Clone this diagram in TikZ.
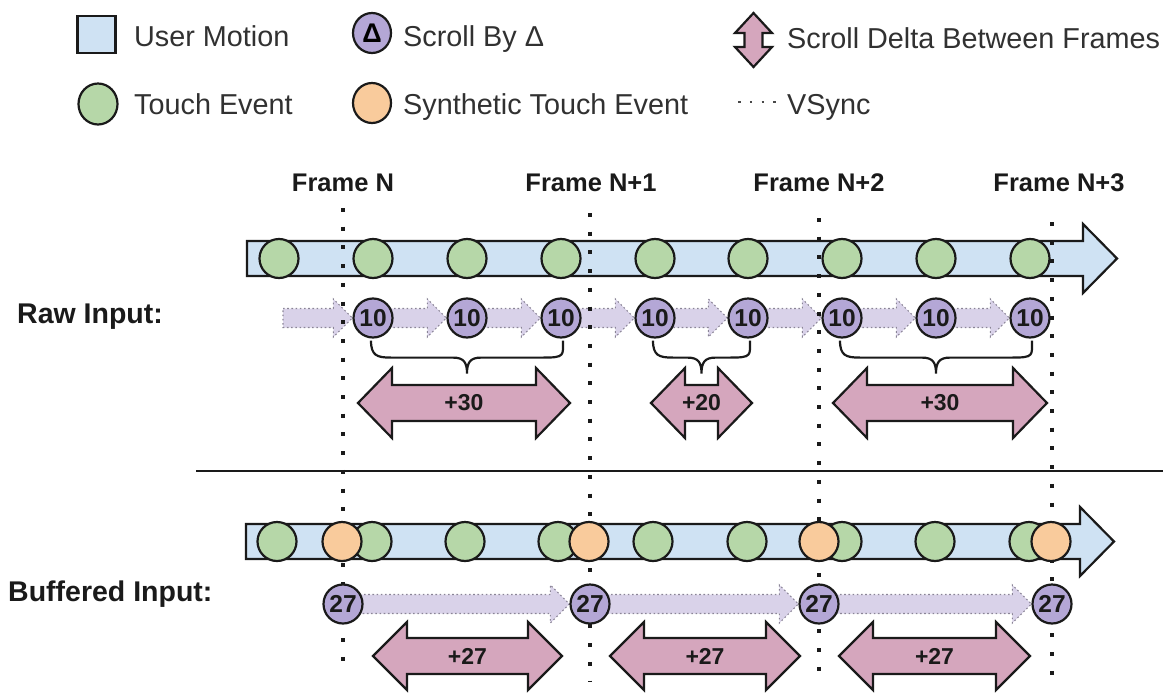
\documentclass[tikz,border=0pt]{standalone}
\usepackage{fontspec}
\setmainfont{Liberation Sans}
\usetikzlibrary{calc,shapes.geometric}

\definecolor{motion}{HTML}{CFE2F3}
\definecolor{touch}{HTML}{B6D7A8}
\definecolor{synth}{HTML}{F9CB9C}
\definecolor{scroll}{HTML}{B4A7D6}
\definecolor{delta}{HTML}{D5A6BD}
\definecolor{flowfill}{HTML}{D9D2E9}
\definecolor{flowline}{HTML}{8A8496}
\definecolor{ink}{HTML}{1A1A1A}

\pgfdeclarelayer{bars}
\pgfdeclarelayer{grid}
\pgfsetlayers{bars,grid,main}

% dotted lavender arrow from one node centre to the west side of another
\newcommand\flowarrow[2]{%
  \path[flow] let \p1=(#1.center), \p2=(#2.west) in
    (\x1,\y1+9.5pt) -- (\x2-19pt,\y1+9.5pt) -- (\x2-19pt,\y1+19pt) -- (\x2,\y1)
    -- (\x2-19pt,\y1-19pt) -- (\x2-19pt,\y1-9.5pt) -- (\x1,\y1-9.5pt) -- cycle;}

% curly brace under two nodes
\newcommand\bracebelow[2]{%
  \draw[bracestyle] let \p1=(#1.south), \p2=(#2.south), \n1={(\x1+\x2)/2} in
    (\x1-2pt,\y1-2pt) .. controls (\x1-2pt,\y1-17pt) and (\x1+4pt,\y1-19pt) .. (\x1+18pt,\y1-19pt)
    -- (\n1-14pt,\y1-19pt) .. controls (\n1-3pt,\y1-19pt) and (\n1,\y1-24pt) .. (\n1,\y1-35pt)
    .. controls (\n1,\y1-24pt) and (\n1+3pt,\y1-19pt) .. (\n1+14pt,\y1-19pt)
    -- (\x2-18pt,\y1-19pt) .. controls (\x2+4pt,\y1-19pt) and (\x2+2pt,\y1-17pt) .. (\x2+2pt,\y1-2pt);}

% horizontal double-headed delta arrow with its label
\newcommand\dblarrow[6]{% name, left tip, right tip, centre y, head half-height, label
  \draw[deltaarrow] (#2,#4) -- (#2+34,#4-#5) -- (#2+34,#4-18) -- (#3-34,#4-18)
    -- (#3-34,#4-#5) -- (#3,#4) -- (#3-34,#4+#5) -- (#3-34,#4+18)
    -- (#2+34,#4+18) -- (#2+34,#4+#5) -- cycle;
  \node[numlabel] (#1) at ({(#2+#3)/2},#4) {#6};}

\begin{document}
\begin{tikzpicture}[x=1pt,y=-1pt,line join=miter,
  outline/.style={draw=ink,line width=2.2pt},
  touchev/.style={circle,outline,fill=touch,minimum size=39pt,inner sep=0pt},
  synthev/.style={circle,outline,fill=synth,minimum size=39pt,inner sep=0pt},
  scrollev/.style={circle,outline,fill=scroll,minimum size=39pt,inner sep=0pt,
    text=ink,font=\bfseries\fontsize{24.5}{24.5}\selectfont},
  motionbar/.style={outline,fill=motion},
  deltaarrow/.style={outline,fill=delta},
  numlabel/.style={inner sep=0pt,text=ink,font=\bfseries\fontsize{23}{23}\selectfont},
  flow/.style={fill=flowfill,draw=flowline,line width=1.1pt,dash pattern=on 1.6pt off 2.6pt},
  vsyncline/.style={draw=ink,line width=4pt,dash pattern=on 4pt off 14.7pt},
  bracestyle/.style={draw=ink,line width=2.2pt},
  legendtext/.style={anchor=base west,inner sep=0pt,text=ink!90,font=\fontsize{28.8}{30}\selectfont},
  rowlabel/.style={anchor=base west,inner sep=0pt,text=ink,font=\bfseries\fontsize{28.5}{30}\selectfont},
  framelabel/.style={anchor=base,inner sep=0pt,text=ink,font=\bfseries\fontsize{25.5}{28}\selectfont}]
\useasboundingbox (0,0) rectangle (1167,696);

% ---------------- legend ----------------
\node[outline,fill=motion,minimum width=38pt,minimum height=37pt,inner sep=0pt] (lgmotion) at (96.5,34.5) {};
\node[legendtext] (lgmotiontxt) at (134,46) {User Motion};
\node[ellipse,outline,fill=scroll,minimum width=38pt,minimum height=40pt,inner sep=0pt,
  font=\bfseries\fontsize{27}{27}\selectfont] (lgscroll) at (372,33) {Δ};
\node[legendtext] (lgscrolltxt) at (403,46) {Scroll By Δ};
\draw[deltaarrow] (753.5,13) -- (772,33) -- (762.5,33) -- (762.5,47) -- (772,47) -- (753.5,67)
  -- (735,47) -- (744.5,47) -- (744.5,33) -- (735,33) -- cycle;
\node[legendtext] (lgdeltatxt) at (787,48) {Scroll Delta Between Frames};
\node[ellipse,outline,fill=touch,minimum width=39pt,minimum height=41pt,inner sep=0pt] (lgtouch) at (98,104) {};
\node[legendtext] (lgtouchtxt) at (134,114) {Touch Event};
\node[ellipse,outline,fill=synth,minimum width=38pt,minimum height=40pt,inner sep=0pt] (lgsynth) at (372,103) {};
\node[legendtext] (lgsynthtxt) at (403,114) {Synthetic Touch Event};
\coordinate (lgvsyncA) at (738,102);
\coordinate (lgvsyncB) at (778,102);
\draw[draw=ink!80,line width=2.5pt,dash pattern=on 2.5pt off 9.3pt] (lgvsyncA) -- (lgvsyncB);
\node[legendtext] (lgvsynctxt) at (787,114) {VSync};

% ---------------- frame labels and vsync lines ----------------
\node[framelabel] (fN)  at (343,191) {Frame N};
\node[framelabel] (fN1) at (591,191) {Frame N+1};
\node[framelabel] (fN2) at (819,191) {Frame N+2};
\node[framelabel] (fN3) at (1059,191) {Frame N+3};

\coordinate (v1a) at (343,208);  \coordinate (v1b) at (343,662);
\coordinate (v2a) at (590,213);  \coordinate (v2b) at (590,682);
\coordinate (v3a) at (819,218);  \coordinate (v3b) at (819,676);
\coordinate (v4a) at (1052,222); \coordinate (v4b) at (1052,678);
\begin{pgfonlayer}{grid}
  \draw[vsyncline] (v1a) -- (v1b);
  \draw[vsyncline] (v2a) -- (v2b);
  \draw[vsyncline] (v3a) -- (v3b);
  \draw[vsyncline] (v4a) -- (v4b);
\end{pgfonlayer}

% ---------------- raw input ----------------
\node[rowlabel] (rawlbl) at (17,323) {Raw Input:};
\begin{pgfonlayer}{bars}
  \draw[motionbar] (247,241) -- (1083,241) -- (1083,224) -- (1117,258.5) -- (1083,293)
    -- (1083,276) -- (247,276) -- cycle;
\end{pgfonlayer}
\foreach \x [count=\i] in {279,373,467,561,655,748,842,936,1030}
  \node[touchev] (t\i) at (\x,258.5) {};
\foreach \x [count=\i] in {373,467,561,655,748,842,936,1030}
  \node[scrollev] (r\i) at (\x,318) {10};
\coordinate (rawstart) at (283,318);
\begin{pgfonlayer}{bars}
  \flowarrow{rawstart}{r1}
  \foreach \i [evaluate=\i as \j using int(\i+1)] in {1,...,7}
    {\flowarrow{r\i}{r\j}}
\end{pgfonlayer}
\bracebelow{r1}{r3}
\bracebelow{r4}{r5}
\bracebelow{r6}{r8}
\dblarrow{d1}{358}{570}{403}{35}{+30}
\dblarrow{d2}{651}{752}{403}{35}{+20}
\dblarrow{d3}{833}{1047}{403}{35}{+30}

% ---------------- separator ----------------
\coordinate (sepL) at (196,471);
\coordinate (sepR) at (1163,471);
\draw[draw=ink,line width=2pt] (sepL) -- (sepR);

% ---------------- buffered input ----------------
\node[rowlabel] (buflbl) at (8,601) {Buffered Input:};
\begin{pgfonlayer}{bars}
  \draw[motionbar] (246,524) -- (1080,524) -- (1080,507) -- (1114,541.5) -- (1080,576)
    -- (1080,559) -- (246,559) -- cycle;
\end{pgfonlayer}
\foreach \x [count=\i] in {277,372,465,558,653,747,842,935,1029}
  \node[touchev] (b\i) at (\x,541.5) {};
\foreach \x [count=\i] in {342,589,819,1051}
  \node[synthev] (s\i) at (\x,541.5) {};
\foreach \x [count=\i] in {343,590,819,1052}
  \node[scrollev] (q\i) at (\x,604) {27};
\begin{pgfonlayer}{bars}
  \flowarrow{q1}{q2}
  \flowarrow{q2}{q3}
  \flowarrow{q3}{q4}
\end{pgfonlayer}
\dblarrow{e1}{373}{562}{656}{34}{+27}
\dblarrow{e2}{610}{800}{656}{34}{+27}
\dblarrow{e3}{839}{1030}{656}{34}{+27}
\end{tikzpicture}
\end{document}
